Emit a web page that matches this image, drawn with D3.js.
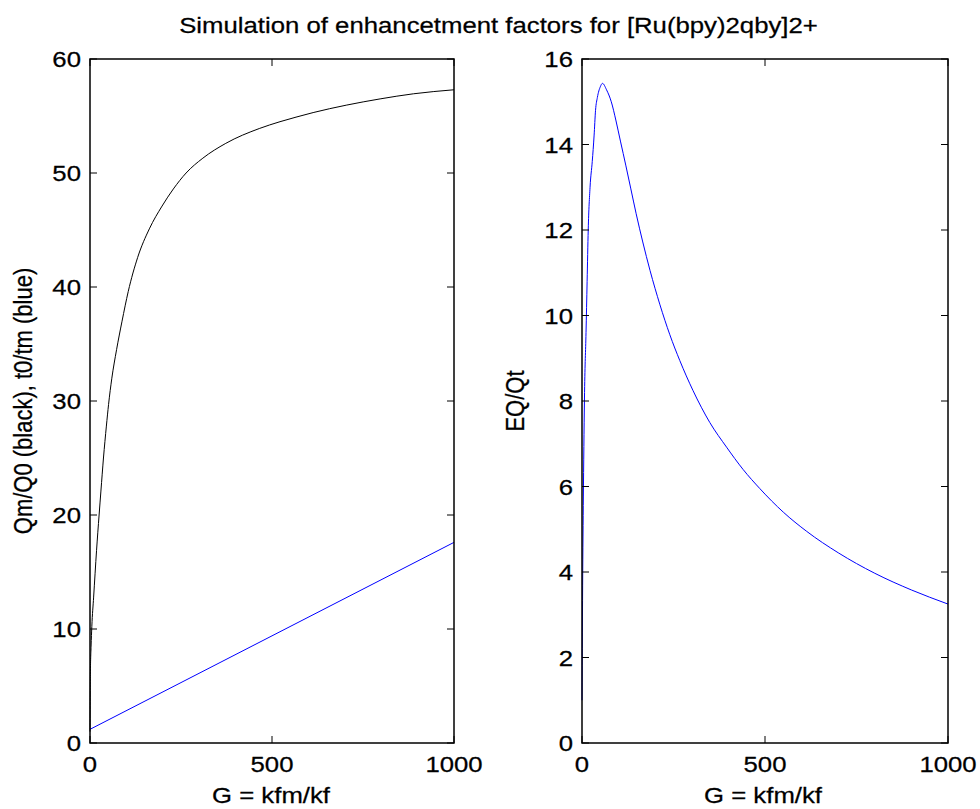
<!DOCTYPE html>
<html><head><meta charset="utf-8">
<script src="https://cdn.jsdelivr.net/npm/d3@7"></script>
<style>html,body{margin:0;padding:0;background:#fff;overflow:hidden}</style>
</head><body><svg id="c" width="980" height="809"></svg>
<script>
// ---- data ----
const titleText = "Simulation of enhancetment factors for [Ru(bpy)2qby]2+";
const xLabelText = "G = kfm/kf";
const leftYLabelText = "Qm/Q0 (black), t0/tm (blue)";
const rightYLabelText = "EQ/Qt";
const xTicks = [0, 500, 1000];
const leftYTicks = [0, 10, 20, 30, 40, 50, 60];
const rightYTicks = [0, 2, 4, 6, 8, 10, 12, 14, 16];

// Qm/Q0 (black)
const qmG   = [0, 1, 3, 5, 10, 18, 25, 30, 37, 45, 51, 60, 73, 88, 105, 131, 163, 198, 229, 264, 310, 373, 465, 522, 566, 613, 704, 797, 889, 1000];
const qmVal = [1.0, 6.0, 8.5, 10.2, 12.8, 16.9, 20.0, 22.1, 25.0, 27.8, 29.7, 32.0, 34.5, 37.0, 39.6, 42.6, 45.1, 47.1, 48.6, 50.0, 51.3, 52.6, 53.9, 54.5, 54.9, 55.3, 55.95, 56.5, 56.95, 57.3];

// t0/tm (blue)
const tmG   = [0, 250, 500, 750, 1000];
const tmVal = [1.2, 5.3, 9.4, 13.5, 17.6];

// EQ/Qt (blue, right panel)
const eqG   = [0, 2, 4, 7, 11, 14, 17, 22, 28, 33, 37, 42, 50, 56, 67, 80, 93, 105, 120, 133, 148, 166, 186, 213, 240, 267, 303, 349, 395, 440, 486, 550, 614, 700, 800, 900, 1000];
const eqVal = [1.0, 4.0, 6.0, 8.2, 9.6, 10.8, 12.0, 13.0, 13.6, 14.2, 14.8, 15.1, 15.35, 15.43, 15.28, 15.0, 14.55, 14.08, 13.5, 12.98, 12.38, 11.72, 11.05, 10.25, 9.55, 8.95, 8.25, 7.5, 6.92, 6.4, 5.95, 5.4, 4.95, 4.45, 3.97, 3.58, 3.25];

// ---- drawing ----
const SX = 1.17;          // horizontal stretch of text seen in the reference
const FONT = "'Liberation Sans', Arial, sans-serif";
const svg = d3.select("#c");

function txt(x, y, s, anchor, rot, size) {
  svg.append("text")
    .attr("transform", `translate(${x},${y}) scale(${SX},1)` + (rot ? " rotate(-90)" : ""))
    .attr("text-anchor", anchor)
    .attr("font-family", FONT)
    .attr("font-size", size || 22)
    .attr("fill", "#000")
    .attr("stroke", "#000").attr("stroke-width", 0.25)
    .text(s);
}

const plotTop = 59, plotBottom = 743, tickLen = 7;

function panel(x0, x1, yMax, yTicks, series, xlabCenter, ylab, ylabX) {
  const x = d3.scaleLinear().domain([0, 1000]).range([x0, x1]);
  const y = d3.scaleLinear().domain([0, yMax]).range([plotBottom, plotTop]);
  const g = svg.append("g");
  const line = d3.line().x(d => x(d[0])).y(d => y(d[1])).curve(d3.curveMonotoneX);
  series.forEach(s => {
    g.append("path")
      .attr("d", line(s.gs.map((v, i) => [v, s.vs[i]])))
      .attr("fill", "none").attr("stroke", s.color).attr("stroke-width", 1);
  });
  g.append("rect").attr("x", x0).attr("y", plotTop).attr("width", x1 - x0).attr("height", plotBottom - plotTop)
    .attr("fill", "none").attr("stroke", "#000").attr("stroke-width", 1.5);
  xTicks.forEach(t => {
    g.append("line").attr("x1", x(t)).attr("x2", x(t)).attr("y1", plotBottom).attr("y2", plotBottom - tickLen).attr("stroke", "#000");
    g.append("line").attr("x1", x(t)).attr("x2", x(t)).attr("y1", plotTop).attr("y2", plotTop + tickLen).attr("stroke", "#000");
    txt(x(t), 772, String(t), "middle");
  });
  yTicks.forEach(t => {
    g.append("line").attr("x1", x0).attr("x2", x0 + tickLen).attr("y1", y(t)).attr("y2", y(t)).attr("stroke", "#000");
    g.append("line").attr("x1", x1).attr("x2", x1 - tickLen).attr("y1", y(t)).attr("y2", y(t)).attr("stroke", "#000");
    txt(x0 - 9, y(t) + 8, String(t), "end");
  });
  txt(xlabCenter, 803, xLabelText, "middle");
  txt(ylabX, 401, ylab, "middle", true);
}

panel(90, 454, 60, leftYTicks, [
  { gs: qmG, vs: qmVal, color: "#000000" },
  { gs: tmG, vs: tmVal, color: "#0000ff" }
], 271, leftYLabelText, 32);

panel(582, 948, 16, rightYTicks, [
  { gs: eqG, vs: eqVal, color: "#0000ff" }
], 763, rightYLabelText, 524);

txt(498.5, 33, titleText, "middle");
</script>
</body></html>
